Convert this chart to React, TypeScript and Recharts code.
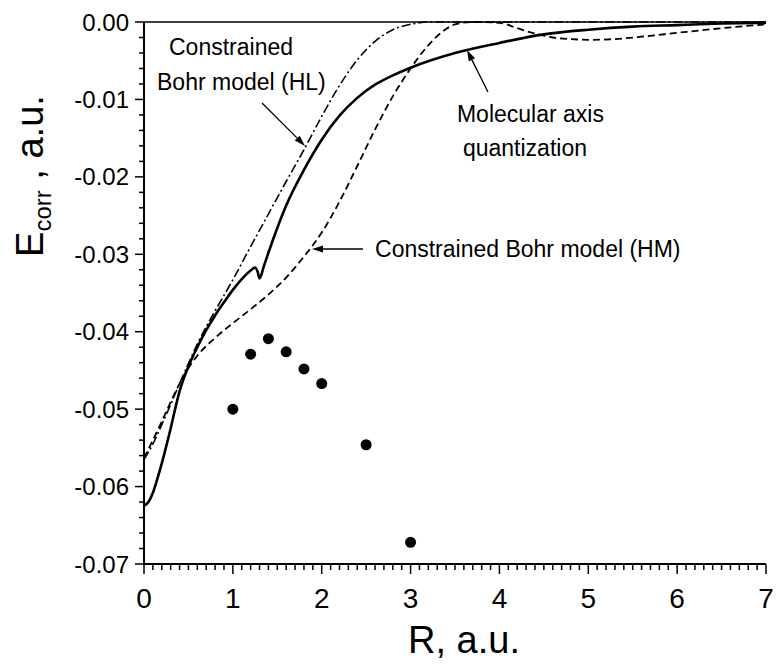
import { ComposedChart, Line, Scatter, XAxis, YAxis, ReferenceLine, Label } from 'recharts'

// molecular axis quantization (solid)
const rMol = [0, 0.05, 0.1, 0.15, 0.2, 0.25, 0.3, 0.35, 0.4, 0.5, 0.6, 0.7, 0.8, 0.9, 1.0, 1.1, 1.2, 1.25, 1.28, 1.3, 1.35, 1.4, 1.5, 1.6, 1.8, 2.0, 2.2, 2.4, 2.6, 2.8, 3.0, 3.5, 4.0, 4.5, 5.0, 5.5, 6.0, 6.5, 7.0]
const eMol = [-0.0625, -0.062, -0.0608, -0.059, -0.057, -0.0548, -0.0525, -0.05, -0.0477, -0.0445, -0.042, -0.0398, -0.0379, -0.0362, -0.0346, -0.0332, -0.0321, -0.0317, -0.0323, -0.0331, -0.0315, -0.0298, -0.0266, -0.0237, -0.0191, -0.0152, -0.0121, -0.0098, -0.0081, -0.0069, -0.0059, -0.004, -0.0027, -0.0016, -0.001, -0.0006, -0.0004, -0.0002, -0.0001]

// constrained Bohr model (HL), dash-dot
const rHL = [0, 0.1, 0.2, 0.3, 0.4, 0.5, 0.6, 0.8, 1.0, 1.2, 1.4, 1.6, 1.8, 2.0, 2.2, 2.4, 2.6, 2.8, 3.0, 3.2, 3.5, 4, 5, 6, 7]
const eHL = [-0.0565, -0.0545, -0.052, -0.0494, -0.0467, -0.0441, -0.0416, -0.0373, -0.0333, -0.029, -0.0248, -0.0206, -0.0165, -0.0122, -0.0082, -0.0049, -0.0025, -0.001, -0.0003, 0, 0, 0, 0, 0, 0]

// constrained Bohr model (HM), dashed
const rHM = [0, 0.1, 0.2, 0.3, 0.4, 0.5, 0.6, 0.8, 1.0, 1.2, 1.4, 1.6, 1.8, 2.0, 2.2, 2.4, 2.6, 2.8, 3.0, 3.2, 3.4, 3.5, 3.7, 4.0, 4.2, 4.4, 4.6, 4.8, 5.0, 5.3, 5.6, 6.0, 6.5, 7.0]
const eHM = [-0.0563, -0.054, -0.0516, -0.0491, -0.0467, -0.0447, -0.0431, -0.0408, -0.0389, -0.0371, -0.0352, -0.033, -0.0303, -0.0272, -0.0232, -0.0186, -0.0139, -0.0096, -0.006, -0.003, -0.0009, -0.0003, 0, -0.0001, -0.0008, -0.0015, -0.002, -0.0022, -0.0023, -0.0022, -0.0019, -0.0014, -0.0008, -0.0003]

// filled circles
const rDots = [1.0, 1.2, 1.4, 1.6, 1.8, 2.0, 2.5, 3.0]
const eDots = [-0.05, -0.0429, -0.0409, -0.0426, -0.0448, -0.0467, -0.0546, -0.0672]

const xTicks = Array.from({ length: 71 }, (_, i) => i / 10)
const yTicks = Array.from({ length: 36 }, (_, i) => -i / 500)

const pts = (rs: number[], es: number[]) => rs.map((r, i) => ({ r, e: es[i] }))

const FONT = 'Liberation Sans, Arial, sans-serif'

function XTick(props: any) {
  const { x, y, payload } = props
  const v = payload.value
  const major = Math.abs(v - Math.round(v)) < 1e-6
  return (
    <g>
      <line x1={x} x2={x} y1={y} y2={y + (major ? 10 : 6)} stroke="#000" strokeWidth={1.5} />
      {major && (
        <text x={x} y={y + 44} textAnchor="middle" fontSize={28} fontFamily={FONT} fill="#000">
          {Math.round(v)}
        </text>
      )}
    </g>
  )
}

function YTick(props: any) {
  const { x, y, payload } = props
  const v = payload.value
  const major = Math.abs(v * 100 - Math.round(v * 100)) < 1e-6
  return (
    <g>
      <line x1={x} x2={x - (major ? 9 : 5)} y1={y} y2={y} stroke="#000" strokeWidth={1.5} />
      {major && (
        <text x={x - 15} y={y + 8.5} textAnchor="end" fontSize={24} fontFamily={FONT} fill="#000">
          {(Math.round(v * 100) / 100 === 0 ? 0 : v).toFixed(2)}
        </text>
      )}
    </g>
  )
}

type Note = { text: string; dx: number; dy: number }

function arrow(notes: Note[]) {
  return (p: any) => {
    const { x1, y1, x2, y2 } = p
    const a = Math.atan2(y2 - y1, x2 - x1)
    const len = 11
    const w = 3.5
    const bx = x2 - len * Math.cos(a)
    const by = y2 - len * Math.sin(a)
    const px = -Math.sin(a) * w
    const py = Math.cos(a) * w
    return (
      <g>
        <line x1={x1} y1={y1} x2={bx} y2={by} stroke="#000" strokeWidth={1.3} />
        <polygon points={`${x2},${y2} ${bx + px},${by + py} ${bx - px},${by - py}`} fill="#000" />
        {notes.map((n) => (
          <text key={n.text} x={x1 + n.dx} y={y1 + n.dy} fontSize={23} fontFamily={FONT} fill="#000">
            {n.text}
          </text>
        ))}
      </g>
    )
  }
}

function Dot(props: any) {
  return <circle cx={props.cx} cy={props.cy} r={5.5} fill="#000" />
}

export default function App() {
  return (
    <div style={{ position: 'absolute', left: 0, top: 0, width: 777, height: 665, background: '#fff' }}>
      <ComposedChart width={777} height={665} margin={{ top: 22, right: 11, bottom: 0, left: 0 }}>
        <XAxis
          type="number"
          dataKey="r"
          domain={[0, 7]}
          ticks={xTicks}
          interval={0}
          tick={<XTick />}
          tickLine={false}
          tickSize={0}
          tickMargin={0}
          height={101}
          axisLine={{ stroke: '#000', strokeWidth: 2 }}
        >
          <Label
            content={() => (
              <text x={464} y={653} textAnchor="middle" fontSize={38} fontFamily={FONT} fill="#000">
                R, a.u.
              </text>
            )}
          />
        </XAxis>
        <YAxis
          type="number"
          dataKey="e"
          domain={[-0.07, 0]}
          ticks={yTicks}
          interval={0}
          tick={<YTick />}
          tickLine={false}
          tickSize={0}
          tickMargin={0}
          width={144}
          axisLine={{ stroke: '#000', strokeWidth: 2 }}
        >
          <Label
            content={() => (
              <text
                x={43}
                y={176}
                transform="rotate(-90, 43, 176)"
                textAnchor="middle"
                fontSize={38}
                fontFamily={FONT}
                fill="#000"
              >
                E
                <tspan fontSize={24} dy={8}>corr</tspan>
                <tspan dy={-8}> , a.u.</tspan>
              </text>
            )}
          />
        </YAxis>
        <ReferenceLine y={0} stroke="#000" strokeWidth={1.5} />
        <Line data={pts(rHL, eHL)} dataKey="e" type="monotone" stroke="#000" strokeWidth={1.6} strokeDasharray="9 3 2 3" dot={false} isAnimationActive={false} />
        <Line data={pts(rHM, eHM)} dataKey="e" type="monotone" stroke="#000" strokeWidth={1.8} strokeDasharray="7 4" dot={false} isAnimationActive={false} />
        <Line data={pts(rMol, eMol)} dataKey="e" type="monotone" stroke="#000" strokeWidth={2.6} dot={false} isAnimationActive={false} />
        <Scatter data={pts(rDots, eDots)} dataKey="e" shape={<Dot />} isAnimationActive={false} />
        <ReferenceLine
          segment={[{ x: 1.328, y: -0.01046 }, { x: 1.812, y: -0.016 }]}
          shape={arrow([
            { text: 'Constrained', dx: -93, dy: -48 },
            { text: 'Bohr model (HL)', dx: -105, dy: -13 },
          ])}
        />
        <ReferenceLine
          segment={[{ x: 3.871, y: -0.00904 }, { x: 3.635, y: -0.00362 }]}
          shape={arrow([
            { text: 'Molecular axis', dx: -31, dy: 30 },
            { text: 'quantization', dx: -25, dy: 64 },
          ])}
        />
        <ReferenceLine
          segment={[{ x: 2.465, y: -0.02932 }, { x: 1.891, y: -0.02932 }]}
          shape={arrow([{ text: 'Constrained Bohr model (HM)', dx: 12, dy: 8 }])}
        />
      </ComposedChart>
    </div>
  )
}
